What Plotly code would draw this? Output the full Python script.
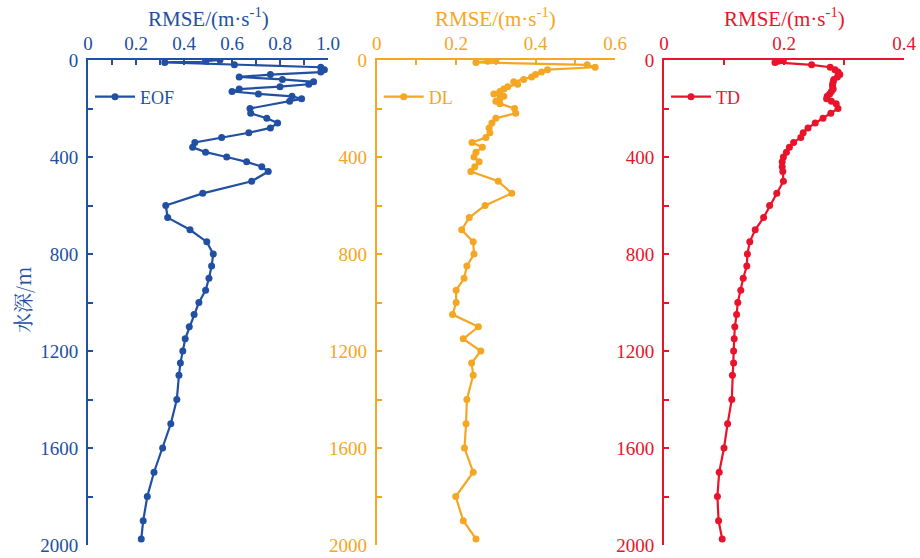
import plotly.graph_objects as go

# Depth levels (m) and RMSE profiles (m/s) for the three reconstruction methods
eof_depth = [0, 5, 10, 20, 30, 40, 50, 60, 70, 80, 90, 100, 110, 120, 130, 140, 150, 160, 170,
             200, 220, 240, 260, 280, 300, 320, 340, 360, 380, 400, 420, 440, 460, 500,
             550, 600, 650, 700, 750, 800, 850, 900, 950, 1000, 1050, 1100, 1150, 1200, 1250, 1300,
             1400, 1500, 1600, 1700, 1800, 1900, 1975]
eof_rmse = [0.55, 0.49, 0.32, 0.61, 0.97, 0.985, 0.97, 0.76, 0.63, 0.81, 0.94, 0.92, 0.80, 0.63, 0.60,
            0.71, 0.85, 0.89, 0.84,
            0.675, 0.678, 0.745, 0.79, 0.76, 0.67, 0.557, 0.445, 0.436, 0.49, 0.578, 0.661, 0.724, 0.751,
            0.682,
            0.478, 0.324, 0.332, 0.425, 0.495, 0.522, 0.515, 0.504, 0.49, 0.462, 0.442, 0.422, 0.405,
            0.395, 0.385, 0.379,
            0.37, 0.345, 0.311, 0.275, 0.247, 0.23, 0.222]

full_depth = [0, 5, 10, 20, 30, 40, 50, 60, 70, 80, 90, 100, 110, 120, 130, 140, 150, 160, 170, 180,
              200, 220, 240, 260, 280, 300, 320, 340, 360, 380, 400, 420, 440, 460, 500,
              550, 600, 650, 700, 750, 800, 850, 900, 950, 1000, 1050, 1100, 1150, 1200, 1250, 1300,
              1400, 1500, 1600, 1700, 1800, 1900, 1975]
dl_rmse = [0.30, 0.28, 0.25, 0.53, 0.55, 0.43, 0.415, 0.40, 0.39, 0.37,
           0.345, 0.355, 0.33, 0.32, 0.31, 0.295, 0.32, 0.31, 0.30, 0.31,
           0.347, 0.35, 0.30, 0.29, 0.283, 0.285, 0.275, 0.24, 0.266, 0.25, 0.245, 0.258, 0.247, 0.237,
           0.306,
           0.34, 0.273, 0.233, 0.214, 0.243, 0.245, 0.227, 0.22, 0.20, 0.20, 0.191, 0.256, 0.218,
           0.262, 0.239, 0.243,
           0.227, 0.225, 0.221, 0.243, 0.199, 0.218, 0.25]
td_rmse = [0.199, 0.19, 0.185, 0.246, 0.277, 0.285, 0.29, 0.293, 0.289, 0.283,
           0.282, 0.281, 0.281, 0.282, 0.279, 0.276, 0.272, 0.271, 0.279, 0.287,
           0.290, 0.278, 0.265, 0.252, 0.24, 0.232, 0.228, 0.216, 0.209, 0.204, 0.199, 0.197, 0.197,
           0.198,
           0.199,
           0.188, 0.176, 0.166, 0.152, 0.143, 0.139, 0.138, 0.132, 0.128, 0.123, 0.121, 0.118, 0.117,
           0.116, 0.116, 0.114,
           0.113, 0.106, 0.100, 0.092, 0.089, 0.091, 0.097]

names = ["EOF", "DL", "TD"]
colors = ["#2150a3", "#f5a623", "#e8142b"]
x_ranges = [[0, 1.0], [0, 0.6], [0, 0.4]]
x_ticks = [[0, 0.2, 0.4, 0.6, 0.8, 1.0], [0, 0.2, 0.4, 0.6], [0, 0.2, 0.4]]
x_ticktext = [["0", "0.2", "0.4", "0.6", "0.8", "1.0"], ["0", "0.2", "0.4", "0.6"], ["0", "0.2", "0.4"]]
depth_ticks = [0, 400, 800, 1200, 1600, 2000]

W, H = 920, 558
x_px = [(88, 328), (376.7, 615), (664, 904)]
y_top, y_bot = 60, 545

FONT = "Liberation Serif, Times New Roman, serif"

fig = go.Figure()
series = [(eof_depth, eof_rmse), (full_depth, dl_rmse), (full_depth, td_rmse)]
for i, ((d, v), name, c) in enumerate(zip(series, names, colors)):
    sfx = "" if i == 0 else str(i + 1)
    fig.add_trace(go.Scatter(
        x=v, y=d, mode="lines+markers", name=name, showlegend=True,
        line=dict(color=c, width=2.2),
        marker=dict(color=c, size=7),
        xaxis="x" + sfx, yaxis="y" + sfx,
        legend="legend" + sfx,
    ))

layout = dict(
    width=W, height=H,
    margin=dict(l=0, r=0, t=0, b=0, autoexpand=False),
    paper_bgcolor="white", plot_bgcolor="white",
    font=dict(family=FONT, size=19),
    showlegend=True,
    annotations=[],
)
for i, c in enumerate(colors):
    sfx = "" if i == 0 else str(i + 1)
    x0, x1 = x_px[i]
    layout["xaxis" + sfx] = dict(
        domain=[x0 / W, x1 / W], anchor="y" + sfx, side="top", automargin=False,
        range=x_ranges[i], tickvals=x_ticks[i], ticktext=x_ticktext[i],
        showgrid=False, zeroline=False, showline=True, linecolor=c, linewidth=2,
        ticks="inside", ticklen=5, tickwidth=1.5, tickcolor=c,
        minor=dict(dtick=0.1, ticks="inside", ticklen=5, tickwidth=1.5, tickcolor=c, showgrid=False),
        tickfont=dict(family=FONT, size=19, color=c),
        ticklabelstandoff=0,
    )
    layout["yaxis" + sfx] = dict(
        domain=[(H - y_bot) / H, (H - y_top) / H], anchor="x" + sfx, automargin=False,
        range=[2000, 0], tickvals=depth_ticks,
        showgrid=False, zeroline=False, showline=True, linecolor=c, linewidth=2,
        ticks="inside", ticklen=5, tickwidth=1.5, tickcolor=c,
        minor=dict(dtick=200, ticks="inside", ticklen=5, tickwidth=1.5, tickcolor=c, showgrid=False),
        tickfont=dict(family=FONT, size=19, color=c),
        ticklabelstandoff=4,
    )
    layout["legend" + sfx] = dict(
        x=(x0 + 2) / W, y=(H - 97) / H, xanchor="left", yanchor="middle",
        itemwidth=40,
        bgcolor="rgba(0,0,0,0)", font=dict(family=FONT, size=18, color=c),
    )
    layout["annotations"].append(dict(
        text="RMSE/(m·s<sup>-1</sup>)", x=(x0 + x1) / 2 / W, y=(H - 17) / H,
        xref="paper", yref="paper", xanchor="center", yanchor="middle",
        showarrow=False, font=dict(family=FONT, size=21, color=c),
    ))

layout["annotations"].append(dict(
    text="水深/m", x=22 / W, y=(H - 300) / H, xref="paper", yref="paper",
    xanchor="center", yanchor="middle", textangle=-90, showarrow=False,
    font=dict(family="Noto Serif CJK SC, Noto Sans CJK SC, serif", size=20, color=colors[0]),
))

fig.update_layout(**layout)
fig.write_html("out.html")
